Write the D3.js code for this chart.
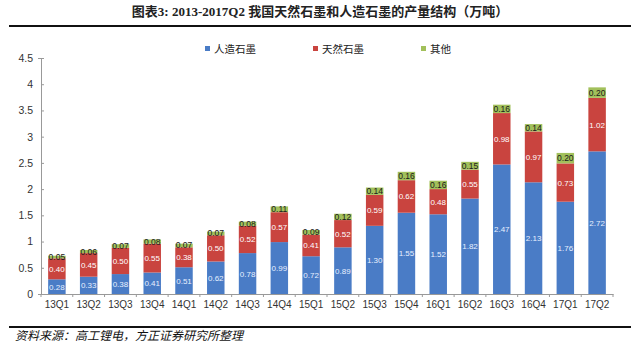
<!DOCTYPE html>
<html><head><meta charset="utf-8">
<script src="https://cdn.jsdelivr.net/npm/d3@7"></script>
<style>body{margin:0;background:#fff}svg{display:block}</style>
</head><body>
<script>
const categories = ["13Q1","13Q2","13Q3","13Q4","14Q1","14Q2","14Q3","14Q4","15Q1","15Q2","15Q3","15Q4","16Q1","16Q2","16Q3","16Q4","17Q1","17Q2"];
const artificial = [0.28,0.33,0.38,0.41,0.51,0.62,0.78,0.99,0.72,0.89,1.30,1.55,1.52,1.82,2.47,2.13,1.76,2.72];
const natural = [0.40,0.45,0.50,0.55,0.38,0.50,0.52,0.57,0.41,0.52,0.59,0.62,0.48,0.55,0.98,0.97,0.73,1.02];
const other = [0.05,0.06,0.07,0.08,0.07,0.07,0.08,0.11,0.09,0.12,0.14,0.16,0.16,0.15,0.16,0.14,0.20,0.20];
const seriesNames = ["人造石墨","天然石墨","其他"];
const yTicks = [0,0.5,1,1.5,2,2.5,3,3.5,4,4.5];
const yTickLabels = ["0","0.5","1","1.5","2","2.5","3","3.5","4","4.5"];
const colors = ["#4a7cc6","#c9443f","#a2c05b"];
const labelColors = ["#e8f0ff","#ffffff","#1a1a1a"];

const W = 640, H = 344;
const svg = d3.select("body").append("svg").attr("width", W).attr("height", H);

// title
svg.append("text").attr("x", 320).attr("y", 16).attr("text-anchor","middle")
  .attr("font-family","'Liberation Serif','Noto Sans CJK SC',serif").attr("font-size",13).attr("font-weight","bold").attr("fill","#222")
  .text("图表3:  2013-2017Q2 我国天然石墨和人造石墨的产量结构（万吨）");
svg.append("line").attr("x1",9).attr("x2",631).attr("y1",26).attr("y2",26).attr("stroke","#111").attr("stroke-width",2);
svg.append("line").attr("x1",9).attr("x2",631).attr("y1",327).attr("y2",327).attr("stroke","#111").attr("stroke-width",2);
svg.append("text").attr("x",15).attr("y",340)
  .attr("font-family","'Noto Sans CJK SC',sans-serif").attr("font-size",12).attr("font-style","italic").attr("fill","#111")
  .text("资料来源：高工锂电，方正证券研究所整理");

const x = d3.scaleBand().domain(categories).range([41, 613]).paddingInner(0.45).paddingOuter(0.225);
const y = d3.scaleLinear().domain([0,4.5]).range([294, 58]);

// legend
const legX = [205, 313, 421];
seriesNames.forEach((n,i)=>{
  const g = svg.append("g").attr("transform",`translate(${legX[i]},49)`);
  g.append("rect").attr("x",0).attr("y",-3).attr("width",5).attr("height",5).attr("fill",colors[i]);
  g.append("text").attr("x",9).attr("y",4).attr("font-family","'Noto Sans CJK SC',sans-serif").attr("font-size",10.5).attr("fill","#222").text(n);
});

// stack
const data = categories.map((c,i)=>({cat:c, a:artificial[i], n:natural[i], o:other[i]}));
const stack = d3.stack().keys(["a","n","o"])(data);
stack.forEach((layer,li)=>{
  const g = svg.append("g");
  g.selectAll("rect").data(layer).join("rect")
    .attr("x", d=>x(d.data.cat)).attr("width", x.bandwidth())
    .attr("y", d=>y(d[1])).attr("height", d=>y(d[0])-y(d[1]))
    .attr("fill", colors[li]);
  g.selectAll("text").data(layer).join("text")
    .attr("x", d=>x(d.data.cat)+x.bandwidth()/2)
    .attr("y", d=>(y(d[0])+y(d[1]))/2+3)
    .attr("text-anchor","middle").attr("font-family","Arial,'Liberation Sans',sans-serif")
    .attr("font-size", li===2?8.5:8).attr("fill", labelColors[li])
    .text(d=>(d[1]-d[0]).toFixed(2));
});

// axes
const yAxis = d3.axisLeft(y).tickValues(yTicks).tickFormat((d,i)=>yTickLabels[i]).tickSize(3).tickPadding(5);
const ya = svg.append("g").attr("transform","translate(41,0)").call(yAxis);
ya.select(".domain").attr("stroke","#999");
ya.selectAll(".tick line").attr("stroke","#999").attr("x2",3);
ya.selectAll(".tick text").attr("font-family","Arial,'Liberation Sans',sans-serif").attr("font-size",10.5).attr("fill","#333").attr("x",-8);

const xa = svg.append("g").attr("transform","translate(0,294)").call(d3.axisBottom(x).tickSize(0).tickPadding(7));
xa.select(".domain").attr("stroke","#999");
xa.selectAll(".tick text").attr("font-family","Arial,'Liberation Sans',sans-serif").attr("font-size",10).attr("fill","#333");
const step = x.step();
const bounds = d3.range(categories.length+1).map(i=>41+i*step);
svg.append("g").selectAll("line").data(bounds).join("line")
  .attr("x1",d=>d).attr("x2",d=>d).attr("y1",294).attr("y2",297).attr("stroke","#999");
</script>
</body></html>
